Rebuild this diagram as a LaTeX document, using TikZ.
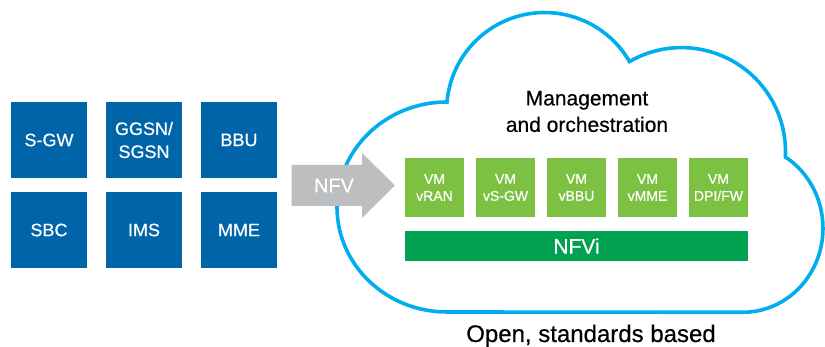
\documentclass[tikz,border=0pt]{standalone}
\usepackage{fontspec}
\setmainfont{Liberation Sans}[BoldFont={Liberation Sans}, BoldFeatures={FakeBold=0.45}]
\usepackage{tikz}
\usetikzlibrary{calc}

\definecolor{boxblue}{RGB}{0,101,168}
\definecolor{cloudblue}{RGB}{0,174,239}
\definecolor{nfvgray}{RGB}{188,190,192}
\definecolor{vmgreen}{RGB}{125,193,66}
\definecolor{nfvigreen}{RGB}{0,161,80}

\tikzset{
    every node/.style={font=\bfseries},
    netfn/.style={fill=boxblue, text=white, minimum size=76pt, inner sep=0pt, align=center, font=\fontsize{18}{23}\selectfont\bfseries},
    vmbox/.style={fill=vmgreen, text=white, minimum size=59pt, inner sep=0pt, align=center, font=\fontsize{14}{17}\selectfont\bfseries}
}

\begin{document}
\begin{tikzpicture}[x=1pt, y=1pt]
        \useasboundingbox (0,0) rectangle (825,347);

        \foreach \lab/\x/\y [count=\i] in {S-GW/49/207, {GGSN/\\SGSN}/144/207, BBU/239/207, SBC/49/117, IMS/144/117, MME/239/117}
            \node[netfn] (nf\i) at (\x,\y) {\lab};

        \draw[cloudblue, line width=3.6pt] (447,245)
            arc[start angle=175, end angle=30, radius=98pt]
            arc[start angle=120, end angle=-3, radius=104pt]
            arc[start angle=58, end angle=-90, x radius=80pt, y radius=84pt]
            -- (447,35)
            arc[start angle=-90, end angle=-270, x radius=110pt, y radius=105pt]
            -- cycle;

        \fill[nfvgray] (291.7,141) -- (362,141) -- (362,129) -- (395,161.5)
            -- (362,194) -- (362,182) -- (291.7,182) -- cycle;
        \node[text=white, font=\fontsize{20}{24}\selectfont\bfseries] (nfv) at (334,161.5) {NFV};

        \node[align=center, font=\fontsize{21}{26.5}\selectfont\bfseries] (mano) at (587,235.5) {Management\\and orchestration};

        \foreach \lab [count=\i] in {vRAN, vS-GW, vBBU, vMME, DPI/FW}
            \node[vmbox] (vm\i) at (363.5+71*\i,159.5) {VM\\\lab};

        \node[fill=nfvigreen, text=white, minimum width=343pt, minimum height=30pt, inner sep=0pt,
            font=\fontsize{21}{25}\selectfont\bfseries] (nfvi) at (576.5,101) {NFVi};

        \node[anchor=base, font=\fontsize{24}{28}\selectfont\bfseries] (open) at (591,5) {Open, standards based};
    \end{tikzpicture}
\end{document}
